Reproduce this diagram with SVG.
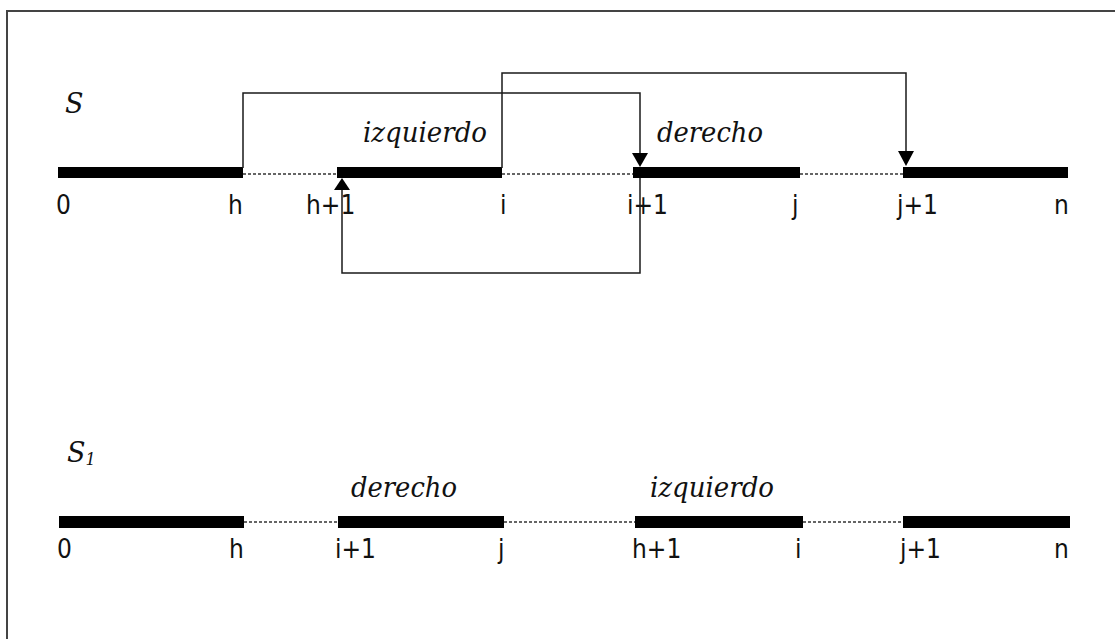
<svg xmlns="http://www.w3.org/2000/svg" width="1115" height="639" viewBox="0 0 1115 639">
  <defs>
    <style>
      .bar { fill: #000; }
      .gap { stroke: #333; stroke-width: 1.3; stroke-dasharray: 3 2; fill: none; }
      .link { stroke: #1a1a1a; stroke-width: 1.5; fill: none; }
      .idx { font-family: "DejaVu Sans", Verdana, sans-serif; font-stretch: condensed; font-size: 26px; fill: #111; }
      .name { font-family: "DejaVu Serif", "Liberation Serif", serif; font-style: italic; font-size: 27px; fill: #111; }
      .frame { stroke: #444; stroke-width: 2; fill: none; }
    </style>
  </defs>

  <rect width="1115" height="639" fill="#fff"/>
  <path class="frame" d="M7,639 V11 H1115"/>

  <!-- sequence S -->
  <g id="seq-s">
    <text class="name" x="65" y="113">S</text>
    <line class="gap" x1="243" y1="174" x2="337" y2="174"/>
    <line class="gap" x1="502" y1="174" x2="633" y2="174"/>
    <line class="gap" x1="800" y1="174" x2="903" y2="174"/>
    <rect class="bar" x="58" y="167" width="185" height="11"/>
    <rect class="bar" x="337" y="167" width="165" height="11"/>
    <rect class="bar" x="633" y="167" width="167" height="11"/>
    <rect class="bar" x="903" y="167" width="165" height="11"/>
    <text class="name" x="363" y="142" textLength="124" lengthAdjust="spacingAndGlyphs">izquierdo</text>
    <text class="name" x="657" y="142" textLength="106" lengthAdjust="spacingAndGlyphs">derecho</text>
    <text class="idx" x="56" y="214">0</text>
    <text class="idx" x="228" y="214">h</text>
    <text class="idx" x="306" y="214">h+1</text>
    <text class="idx" x="500" y="214">i</text>
    <text class="idx" x="627" y="214">i+1</text>
    <text class="idx" x="792" y="214">j</text>
    <text class="idx" x="897" y="214">j+1</text>
    <text class="idx" x="1054" y="214">n</text>
  </g>

  <!-- sequence S1 -->
  <g id="seq-s1">
    <text class="name" x="67" y="462">S<tspan font-size="16" dy="3">1</tspan></text>
    <line class="gap" x1="244" y1="522" x2="338" y2="522"/>
    <line class="gap" x1="504" y1="522" x2="635" y2="522"/>
    <line class="gap" x1="803" y1="522" x2="903" y2="522"/>
    <rect class="bar" x="59" y="516" width="185" height="12"/>
    <rect class="bar" x="338" y="516" width="166" height="12"/>
    <rect class="bar" x="635" y="516" width="168" height="12"/>
    <rect class="bar" x="903" y="516" width="167" height="12"/>
    <text class="name" x="351" y="497" textLength="106" lengthAdjust="spacingAndGlyphs">derecho</text>
    <text class="name" x="650" y="497" textLength="124" lengthAdjust="spacingAndGlyphs">izquierdo</text>
    <text class="idx" x="57" y="558">0</text>
    <text class="idx" x="229" y="558">h</text>
    <text class="idx" x="335" y="558">i+1</text>
    <text class="idx" x="498" y="558">j</text>
    <text class="idx" x="632" y="558">h+1</text>
    <text class="idx" x="795" y="558">i</text>
    <text class="idx" x="900" y="558">j+1</text>
    <text class="idx" x="1054" y="558">n</text>
  </g>

  <!-- moves between blocks -->
  <g id="connectors">
    <path class="link" d="M243,168 V93 H640 V153"/>
    <path d="M632,153 L648,153 L640,167 Z" fill="#000"/>
    <path class="link" d="M502,168 V73 H906 V151"/>
    <path d="M898,151 L914,151 L906,166 Z" fill="#000"/>
    <path class="link" d="M640,178 V273 H342 V190"/>
    <path d="M334,190 L350,190 L342,178 Z" fill="#000"/>
  </g>
</svg>
